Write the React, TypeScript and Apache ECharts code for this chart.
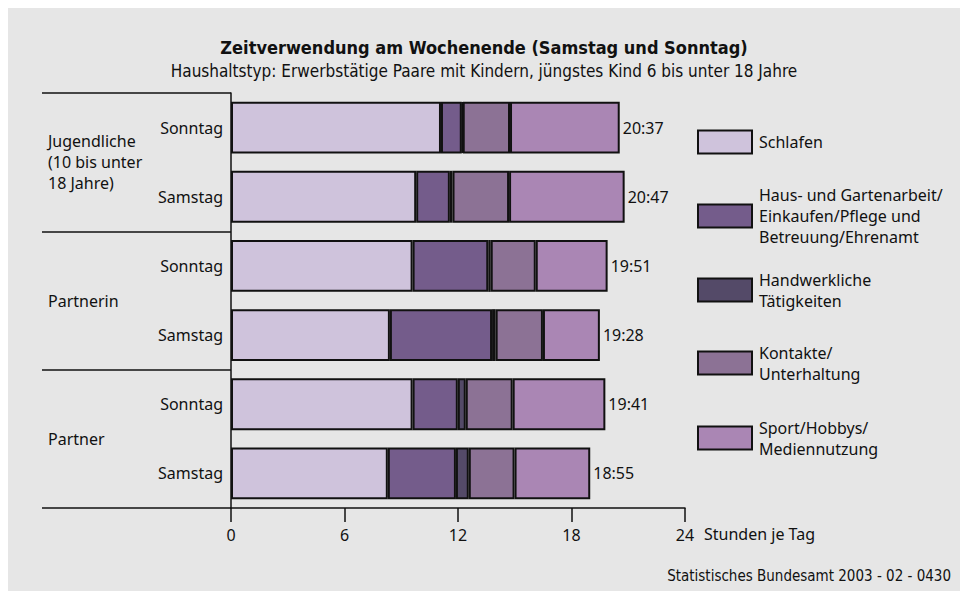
import React, { useEffect, useRef } from "react";
import * as echarts from "echarts";

// ---- data ----
const dayLabels = ["Sonntag", "Samstag", "Sonntag", "Samstag", "Sonntag", "Samstag"];
const groupLabels = ["Jugendliche\n(10 bis unter\n18 Jahre)", "Partnerin", "Partner"];
const seriesNames = [
  "Schlafen",
  "Haus- und Gartenarbeit/Einkaufen/Pflege und Betreuung/Ehrenamt",
  "Handwerkliche Tätigkeiten",
  "Kontakte/Unterhaltung",
  "Sport/Hobbys/Mediennutzung",
];
const legendTexts = [
  "Schlafen",
  "Haus- und Gartenarbeit/\nEinkaufen/Pflege und\nBetreuung/Ehrenamt",
  "Handwerkliche\nTätigkeiten",
  "Kontakte/\nUnterhaltung",
  "Sport/Hobbys/\nMediennutzung",
];
const schlafen = [11.1, 9.79, 9.6, 8.4, 9.6, 8.29];
const hausarbeit = [1.1, 1.78, 4.0, 5.4, 2.39, 3.6];
const handwerk = [0.05, 0.14, 0.13, 0.19, 0.42, 0.68];
const kontakte = [2.5, 2.99, 2.38, 2.5, 2.48, 2.42];
const sport = [5.8, 6.11, 3.8, 3.01, 4.9, 4.0];
const totalLabels = ["20:37", "20:47", "19:51", "19:28", "19:41", "18:55"];
const xTicks = [0, 6, 12, 18, 24];
const axisName = "Stunden je Tag";
const titleText = "Zeitverwendung am Wochenende (Samstag und Sonntag)";
const subtitleText = "Haushaltstyp: Erwerbstätige Paare mit Kindern, jüngstes Kind 6 bis unter 18 Jahre";
const sourceText = "Statistisches Bundesamt 2003 - 02 - 0430";

const seriesValues = [schlafen, hausarbeit, handwerk, kontakte, sport];
const colors = ["#cfc3dc", "#745c8b", "#544a68", "#8c7295", "#aa86b4"];

const BODY_FONT = "'Noto Sans', 'Open Sans', sans-serif";
const COND_FONT = "'DejaVu Sans Condensed', 'Liberation Sans Narrow', sans-serif";

export default function App() {
  const ref = useRef<HTMLDivElement>(null);

  useEffect(() => {
    if (!ref.current) return;
    const chart = echarts.init(ref.current, null, { renderer: "svg" });

    const legendCenters = [133, 208, 282, 355, 430];
    const legendLines = legendTexts.map((t) => t.split("\n").length);

    const option: any = {
      animation: false,
      backgroundColor: "#e6e6e6",
      textStyle: { fontFamily: BODY_FONT },
      title: [
        {
          text: titleText,
          subtext: subtitleText,
          left: "center",
          top: 28,
          padding: 0,
          itemGap: 3,
          textStyle: {
            fontFamily: COND_FONT,
            fontSize: 18,
            lineHeight: 22,
            fontWeight: "bold",
            color: "#111",
          },
          subtextStyle: {
            fontFamily: COND_FONT,
            fontSize: 17,
            lineHeight: 20,
            color: "#111",
          },
        },
        {
          text: sourceText,
          right: 9,
          top: 559,
          padding: 0,
          textStyle: {
            fontFamily: COND_FONT,
            fontSize: 15,
            lineHeight: 18,
            fontWeight: "normal",
            color: "#111",
          },
        },
      ],
      legend: seriesNames.map((name, i) => {
        const h = Math.max(23, legendLines[i] * 21);
        return {
          data: [name],
          orient: "vertical",
          left: 689,
          top: legendCenters[i] - h / 2,
          padding: 0,
          itemWidth: 54,
          itemHeight: 23,
          selectedMode: false,
          icon: "rect",
          itemStyle: { borderColor: "#111", borderWidth: 2 },
          formatter: () => legendTexts[i],
          textStyle: {
            fontFamily: BODY_FONT,
            fontSize: 16,
            lineHeight: 21,
            color: "#111",
            padding: [0, 0, 0, 2],
          },
        };
      }),
      grid: { left: 223, right: 275, top: 85, bottom: 83, containLabel: false },
      xAxis: {
        type: "value",
        min: xTicks[0],
        max: xTicks[xTicks.length - 1],
        interval: xTicks[1] - xTicks[0],
        name: axisName,
        nameLocation: "end",
        nameGap: 19,
        nameTextStyle: {
          fontFamily: BODY_FONT,
          fontSize: 16,
          color: "#111",
          verticalAlign: "top",
          padding: [18, 0, 0, 0],
        },
        axisLine: { show: true, lineStyle: { color: "#111", width: 1.5 } },
        axisTick: { show: true, length: 14, lineStyle: { color: "#111", width: 1.5 } },
        axisLabel: { margin: 19, fontFamily: BODY_FONT, fontSize: 16, color: "#111" },
        splitLine: { show: false },
      },
      yAxis: {
        type: "category",
        inverse: true,
        data: dayLabels,
        axisLine: { show: true, lineStyle: { color: "#111", width: 1.5 } },
        axisTick: {
          show: true,
          length: 189,
          interval: (index: number) => index % 2 === 0,
          lineStyle: { color: "#111", width: 1.5 },
        },
        axisLabel: {
          interval: 0,
          margin: 8,
          fontFamily: BODY_FONT,
          fontSize: 16,
          color: "#111",
        },
        splitLine: { show: false },
      },
      series: seriesNames.map((name, i) => ({
        name,
        type: "bar",
        stack: "total",
        barWidth: "75%",
        data: seriesValues[i],
        itemStyle: { color: colors[i], borderColor: "#111", borderWidth: 2 },
        label:
          i === seriesNames.length - 1
            ? {
                show: true,
                position: "right",
                distance: 3,
                fontFamily: BODY_FONT,
                fontSize: 16,
                color: "#111",
                formatter: (p: any) => totalLabels[p.dataIndex],
              }
            : { show: false },
      })),
    };

    chart.setOption(option);

    const graphics = groupLabels.map((label, g) => {
      const y0 = chart.convertToPixel({ yAxisIndex: 0 }, g * 2) as number;
      const y1 = chart.convertToPixel({ yAxisIndex: 0 }, g * 2 + 1) as number;
      return {
        type: "text",
        x: 40,
        y: (y0 + y1) / 2,
        style: {
          text: label,
          fontFamily: BODY_FONT,
          fontSize: 16,
          lineHeight: 21,
          fill: "#111",
          verticalAlign: "middle",
          align: "left",
        },
      };
    });
    chart.setOption({ graphic: graphics });

    return () => chart.dispose();
  }, []);

  return (
    <div
      ref={ref}
      style={{ position: "fixed", left: 8, top: 8, width: 952, height: 583 }}
    />
  );
}
